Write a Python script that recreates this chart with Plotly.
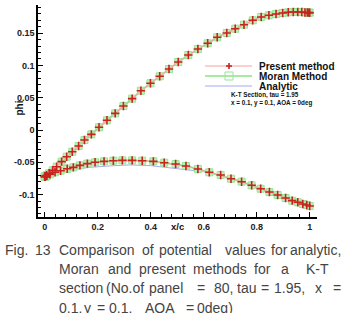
import plotly.graph_objects as go

# ---------------- data ----------------
x_upper = [0.0, 0.002, 0.007, 0.017, 0.03, 0.045, 0.064, 0.083, 0.104, 0.128, 0.15, 0.176,
           0.205, 0.235, 0.266, 0.297, 0.33, 0.363, 0.399, 0.434, 0.469, 0.504, 0.542,
           0.578, 0.615, 0.651, 0.687, 0.719, 0.752, 0.785, 0.817, 0.846, 0.873, 0.898,
           0.919, 0.938, 0.955, 0.97, 0.982, 0.991, 0.997, 1.0]
y_upper = [-0.072, -0.0715, -0.070, -0.067, -0.0624, -0.0568, -0.049, -0.0413, -0.0336,
           -0.0248, -0.0155, -0.0067, 0.0042, 0.015, 0.0258, 0.0372, 0.0485, 0.0608,
           0.0723, 0.0831, 0.0944, 0.1053, 0.1161, 0.1254, 0.1342, 0.1435, 0.1502,
           0.1568, 0.163, 0.1698, 0.175, 0.1776, 0.1796, 0.1811, 0.1822, 0.1827,
           0.1827, 0.1827, 0.182, 0.1818, 0.1817, 0.1816]

x_lower = [0.0, 0.003, 0.008, 0.02, 0.039, 0.06, 0.085, 0.108, 0.133, 0.161, 0.19, 0.224,
           0.259, 0.293, 0.33, 0.368, 0.41, 0.451, 0.494, 0.533, 0.578, 0.621, 0.664,
           0.703, 0.743, 0.781, 0.815, 0.848, 0.879, 0.909, 0.934, 0.955, 0.974, 0.989, 1.0]
y_lower = [-0.0723, -0.0722, -0.071, -0.0686, -0.0655, -0.063, -0.060, -0.0578, -0.0547,
           -0.052, -0.050, -0.0485, -0.0475, -0.047, -0.047, -0.0475, -0.0485, -0.0506,
           -0.0527, -0.0557, -0.0604, -0.0655, -0.0697, -0.0754, -0.080, -0.0856,
           -0.0909, -0.096, -0.1006, -0.1053, -0.1094, -0.1119, -0.1146, -0.116, -0.1176]

x_analytic_upper = [0.0, 0.05, 0.1, 0.2, 0.3, 0.4, 0.5, 0.6, 0.7, 0.8, 0.9, 0.95, 1.0]
y_analytic_upper = [-0.074, -0.056, -0.035, 0.002, 0.038, 0.072, 0.104, 0.130, 0.153,
                    0.172, 0.181, 0.182, 0.181]
x_analytic_lower = [0.0, 0.01, 0.03, 0.07, 0.12, 0.171, 0.25, 0.32, 0.4, 0.473, 0.55,
                    0.6, 0.66, 0.725, 0.79, 0.85, 0.9, 0.95, 1.0]
y_analytic_lower = [-0.074, -0.0735, -0.0705, -0.0646, -0.0605, -0.0578, -0.0555, -0.054,
                    -0.0552, -0.0584, -0.062, -0.0646, -0.070, -0.0774, -0.088, -0.099,
                    -0.1075, -0.1145, -0.121]

y_ticks = [0.15, 0.1, 0.05, 0, -0.05, -0.1]
y_tick_labels = ["0.15", "0.1", "0.05", "0", "-0.05", "-0.1"]
x_ticks = [0, 0.2, 0.4, 0.6, 0.8, 1]
x_tick_labels = ["0", "0.2", "0.4", "0.6", "0.8", "1"]

legend_names = ["Present method", "Moran Method", "Analytic"]
case_lines = ["K-T Section, tau = 1.95", "x = 0.1, y = 0.1, AOA = 0deg"]

# (word, pixel position, anchor)
caption_words = [
    [("Fig.", 3, "left"), ("13", 33, "left"), ("Comparison", 57, "left"),
     ("of", 140, "left"), ("potential", 157, "left"), ("values", 223, "left"),
     ("for", 269, "left"), ("analytic,", 343, "right")],
    [("Moran", 57, "left"), ("and", 106, "left"), ("present", 137, "left"),
     ("methods", 191, "left"), ("for", 252, "left"), ("a", 279, "left"),
     ("K-T", 317, "center")],
    [("section", 57, "left"), ("(No.of", 104, "left"), ("panel", 147, "left"),
     ("=", 195, "left"), ("80,", 212, "left"), ("tau", 235, "left"), ("=", 259, "left"),
     ("1.95,", 272, "left"), ("x", 313, "left"), ("=", 343, "right")],
    [("0.1,", 57, "left"), ("y", 82, "left"), ("=", 95, "left"), ("0.1,", 107, "left"),
     ("AOA", 143, "left"), ("=", 184, "left"), ("0deg)", 195, "left")],
]
caption_y = [250, 269, 288, 308]

# ---------------- layout geometry ----------------
W, H = 344, 313
L, R, T, B = 38, 317, 5, 217
PW, PH = R - L, B - T

def px(x):
    return (x - L) / PW

def py(y):
    return (B - y) / PH

x_path = x_upper[::-1] + x_lower
y_path = y_upper[::-1] + y_lower
x_an = x_analytic_upper[::-1] + x_analytic_lower
y_an = y_analytic_upper[::-1] + y_analytic_lower

RED = "#c8231f"
REDLINE = "#f4a0a0"
GREEN = "#a6eca0"
BLUE = "#a8a8f0"

fig = go.Figure()
fig.add_trace(go.Scatter(x=x_an, y=y_an, mode="lines", name=legend_names[2],
                         line=dict(color=BLUE, width=1)))
fig.add_trace(go.Scatter(x=x_path, y=y_path, mode="lines+markers", name=legend_names[1],
                         line=dict(color=GREEN, width=2),
                         marker=dict(symbol="square", size=7, color="rgba(185,240,175,0.9)",
                                     line=dict(color="#98e498", width=1))))
fig.add_trace(go.Scatter(x=x_path, y=y_path, mode="lines+markers", name=legend_names[0],
                         line=dict(color=REDLINE, width=1),
                         marker=dict(symbol="cross-thin", size=6,
                                     line=dict(color=RED, width=1.6))))

axis_common = dict(showgrid=False, zeroline=False, showline=True, linecolor="black",
                   linewidth=1.5, ticks="inside", ticklen=5, tickcolor="black",
                   tickwidth=1.2, mirror=False, automargin=False,
                   tickfont=dict(family="Liberation Sans", size=9, color="#222",
                                 weight="bold"))

fig.update_xaxes(range=[(38 - 44.7) / 265, (317 - 44.7) / 265],
                 tickvals=x_ticks, ticktext=x_tick_labels,
                 minor=dict(ticks="inside", ticklen=3, dtick=0.04, tickcolor="black"),
                 **axis_common)
fig.update_yaxes(range=[-(217 - 130) * 0.05 / 32.3, (130 - 5) * 0.05 / 32.3],
                 tickvals=y_ticks, ticktext=y_tick_labels,
                 minor=dict(ticks="inside", ticklen=3, dtick=0.01, tickcolor="black"),
                 **axis_common)

annotations = []
shapes = []

# axis titles
annotations.append(dict(x=px(12), y=py(108), xref="paper", yref="paper", text="phi",
                        showarrow=False, textangle=-90,
                        font=dict(family="Liberation Sans", size=10, color="#111",
                                  weight="bold")))
annotations.append(dict(x=px(177), y=py(234), xref="paper", yref="paper", text="x/c",
                        showarrow=False,
                        font=dict(family="Liberation Sans", size=9.5, color="#111",
                                  weight="bold")))

# legend (manual, tight rows)
rows = [66, 76, 86]
for name, ry in zip(legend_names, rows):
    annotations.append(dict(x=px(257), y=py(ry), xref="paper", yref="paper", text=name,
                            showarrow=False, xanchor="left", yanchor="middle",
                            font=dict(family="Liberation Sans", size=10, color="#111",
                                      weight="bold")))
shapes.append(dict(type="line", xref="paper", yref="paper", x0=px(205), x1=px(252),
                   y0=py(rows[0]), y1=py(rows[0]), line=dict(color=REDLINE, width=1)))
shapes.append(dict(type="line", xref="paper", yref="paper", x0=px(226), x1=px(232),
                   y0=py(rows[0]), y1=py(rows[0]), line=dict(color=RED, width=1.6)))
shapes.append(dict(type="line", xref="paper", yref="paper", x0=px(229), x1=px(229),
                   y0=py(rows[0] - 3), y1=py(rows[0] + 3), line=dict(color=RED, width=1.6)))
shapes.append(dict(type="line", xref="paper", yref="paper", x0=px(205), x1=px(252),
                   y0=py(rows[1]), y1=py(rows[1]), line=dict(color=GREEN, width=2)))
shapes.append(dict(type="rect", xref="paper", yref="paper", x0=px(225), x1=px(233),
                   y0=py(rows[1] - 4), y1=py(rows[1] + 4),
                   line=dict(color="#98e498", width=1), fillcolor="rgba(255,255,255,0)"))
shapes.append(dict(type="line", xref="paper", yref="paper", x0=px(205), x1=px(252),
                   y0=py(rows[2]), y1=py(rows[2]), line=dict(color=BLUE, width=1)))

annotations.append(dict(x=px(229), y=py(98.5), xref="paper", yref="paper",
                        text="<br>".join(case_lines), align="left",
                        showarrow=False, xanchor="left", yanchor="middle",
                        font=dict(family="Liberation Sans", size=6.3, color="#111",
                                  weight="bold")))

# caption (justified, word by word)
for words, cy in zip(caption_words, caption_y):
    for w, wx, anc in words:
        annotations.append(dict(x=px(wx), y=py(cy), xref="paper", yref="paper", text=w,
                                showarrow=False, xanchor=anc, yanchor="middle",
                                font=dict(family="Liberation Sans", size=14,
                                          color="#444")))

fig.update_layout(width=W, height=H, margin=dict(l=L, r=W - R, t=T, b=H - B),
                  paper_bgcolor="white", plot_bgcolor="white", showlegend=False,
                  annotations=annotations, shapes=shapes)

fig.write_html("out.html")
